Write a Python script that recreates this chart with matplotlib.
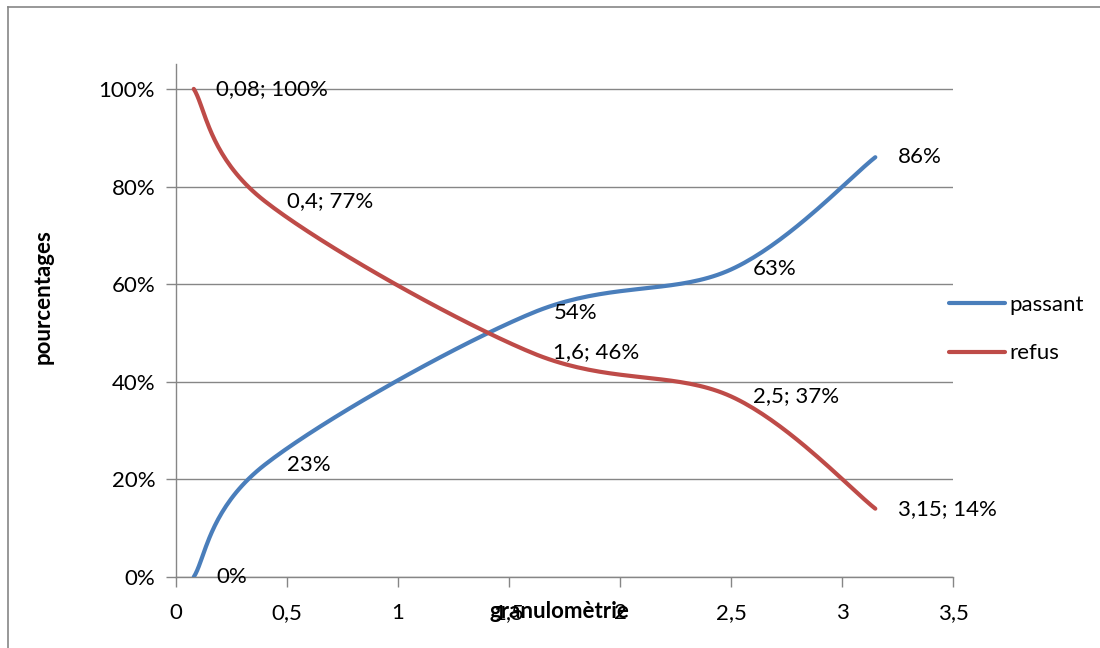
import numpy as np
import matplotlib
matplotlib.use("Agg")
import matplotlib.pyplot as plt
from matplotlib.lines import Line2D
from matplotlib.ticker import PercentFormatter, FuncFormatter

plt.rcParams['font.family'] = ['Lato', 'DejaVu Sans']

granulo = [0.08, 0.4, 1.6, 2.5, 3.15]
passant = [0, 23, 54, 63, 86]
refus = [100, 77, 46, 37, 14]

x_ticks = [0, 0.5, 1, 1.5, 2, 2.5, 3, 3.5]
y_ticks = [0, 20, 40, 60, 80, 100]

blue = "#4A7EBB"
red = "#BE4B48"
grid_col = "#868686"
fs = 16


def smooth(xs, ys, n=40):
    # Excel-like smoothed line: cubic Bezier with Catmull-Rom control points
    p = np.column_stack([xs, ys]).astype(float)
    p = np.vstack([p[0], p, p[-1]])
    out = []
    t = np.linspace(0, 1, n)[:, None]
    for i in range(1, len(p) - 2):
        p0, p1, p2, p3 = p[i - 1], p[i], p[i + 1], p[i + 2]
        c1 = p1 + (p2 - p0) / 6
        c2 = p2 - (p3 - p1) / 6
        seg = ((1 - t) ** 3) * p1 + 3 * ((1 - t) ** 2) * t * c1 + 3 * (1 - t) * t ** 2 * c2 + t ** 3 * p2
        out.append(seg)
    out = np.vstack(out)
    return out[:, 0], out[:, 1]


def fr(v):
    s = f"{v:g}"
    return s.replace(".", ",")


fig = plt.figure(figsize=(11, 6.48), dpi=100)
ax = fig.add_axes([176 / 1100, 71 / 648, 777 / 1100, 513 / 648])

bx, by = smooth(granulo, passant)
rx, ry = smooth(granulo, refus)
ax.plot(bx, by, color=blue, lw=3, solid_capstyle="round", zorder=3)
ax.plot(rx, ry, color=red, lw=3, solid_capstyle="round", zorder=3)

for x, p, r in zip(granulo, passant, refus):
    ax.annotate(f"{p}%", (x, p), xytext=(16, 0), textcoords="offset points",
                va="center", ha="left", fontsize=fs, zorder=4)
    ax.annotate(f"{fr(x)}; {r}%", (x, r), xytext=(16, 0), textcoords="offset points",
                va="center", ha="left", fontsize=fs, zorder=4)

ax.set_xlim(0, 3.5)
ax.set_ylim(0, 105.1)
ax.set_xticks(x_ticks)
ax.set_yticks(y_ticks)
ax.xaxis.set_major_formatter(FuncFormatter(lambda v, _: fr(v)))
ax.yaxis.set_major_formatter(PercentFormatter(decimals=0))
ax.tick_params(axis="both", labelsize=fs, color=grid_col, length=7, width=1)
ax.tick_params(axis="x", pad=12)
ax.tick_params(axis="y", pad=8)
ax.yaxis.grid(True, color=grid_col, lw=1)
ax.set_axisbelow(True)
for s in ["top", "right"]:
    ax.spines[s].set_visible(False)
for s in ["left", "bottom"]:
    ax.spines[s].set_color(grid_col)
    ax.spines[s].set_linewidth(1)

fig.text(559 / 1100, 1 - 611 / 648, "granulomètrie", ha="center", va="center",
         fontsize=fs, fontweight="bold")
fig.text(43 / 1100, 1 - 297 / 648, "pourcentages", ha="center", va="center",
         rotation=90, fontsize=fs, fontweight="bold")

handles = [Line2D([], [], color=blue, lw=3, solid_capstyle="round"),
           Line2D([], [], color=red, lw=3, solid_capstyle="round")]
fig.legend(handles, ["passant", "refus"], loc="center left",
           bbox_to_anchor=(929 / 1100, 1 - 329 / 648), frameon=False,
           fontsize=fs, handlelength=2.5, handletextpad=0.2, labelspacing=1.3)

# outer chart border (left and top edges visible)
fig.add_artist(Line2D([8 / 1100, 8 / 1100], [0, 1 - 7 / 648], transform=fig.transFigure,
                      color=grid_col, lw=1.2))
fig.add_artist(Line2D([8 / 1100, 1], [1 - 7 / 648, 1 - 7 / 648], transform=fig.transFigure,
                      color=grid_col, lw=1.2))

fig.savefig("out.png", dpi=100)
